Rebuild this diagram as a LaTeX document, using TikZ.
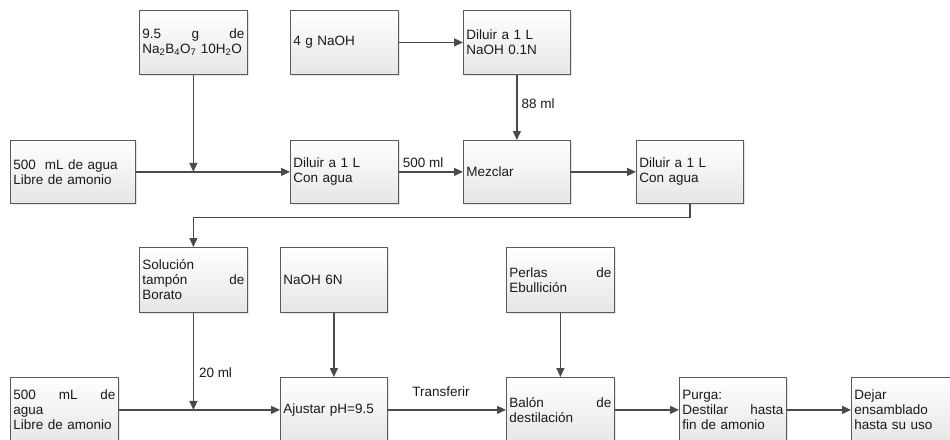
\documentclass[tikz,border=0pt]{standalone}
\usepackage{fontspec}
\setmainfont{Liberation Sans}
\usetikzlibrary{arrows.meta,shadows}
\definecolor{boxline}{HTML}{5A5A5A}
\definecolor{arrowc}{HTML}{4A4A4A}
\definecolor{boxbot}{HTML}{E6E6E6}
\definecolor{txt}{HTML}{1A1A1A}
\begin{document}
\begin{tikzpicture}[x=1pt,y=-1pt,
 box/.style={draw=boxline, line width=0.8pt, top color=white, bottom color=boxbot,
   drop shadow={shadow xshift=2pt,shadow yshift=-2pt,fill=black!20},
   anchor=north west, inner xsep=3pt, inner ysep=0pt, align=left, text=txt,
   font=\fontsize{13.5}{15}\selectfont, minimum height=64pt},
 conn/.style={draw=arrowc, line width=1.2pt, -{Triangle[length=9pt,width=8pt]}},
 lbl/.style={font=\fontsize{13.5}{15}\selectfont, inner sep=0pt, text=txt}]
\useasboundingbox (0,0) rectangle (950,439);
% row 1
\node[box, minimum width=108pt, text width=102pt] (b1) at (139,10)
  {9.5\hfill g\hfill de\\Na\textsubscript{2}B\textsubscript{4}O\textsubscript{7} 10H\textsubscript{2}O};
\node[box, minimum width=108pt, text width=102pt] (b2) at (290,10) {4 g NaOH};
\node[box, minimum width=107pt, text width=101pt] (b3) at (463,10) {Diluir a 1 L\\NaOH 0.1N};
% row 2
\node[box, minimum width=125pt, text width=119pt, minimum height=63pt] (b4) at (10,140) {500\ \ mL de agua\\Libre de amonio};
\node[box, minimum width=108pt, text width=102pt, minimum height=63pt] (b5) at (290,140) {Diluir a 1 L\\Con agua};
\node[box, minimum width=107pt, text width=101pt, minimum height=63pt] (b6) at (463,140) {Mezclar};
\node[box, minimum width=107pt, text width=101pt, minimum height=63pt] (b7) at (636,140) {Diluir a 1 L\\Con agua};
% row 3
\node[box, minimum width=108pt, text width=102pt, minimum height=65pt] (b8) at (139,247) {Soluci\'on\\tamp\'on\hfill de\\Borato};
\node[box, minimum width=107pt, text width=101pt, minimum height=65pt] (b9) at (280,247) {NaOH 6N};
\node[box, minimum width=108pt, text width=102pt, minimum height=65pt] (b10) at (506,247) {Perlas\hfill de\\Ebullici\'on};
% row 4
\node[box, minimum width=108pt, text width=102pt, minimum height=65pt] (b11) at (10,377) {500\hfill mL\hfill de\\agua\\Libre de amonio};
\node[box, minimum width=107pt, text width=101pt, minimum height=65pt] (b12) at (280,377) {Ajustar pH=9.5};
\node[box, minimum width=108pt, text width=102pt, minimum height=65pt] (b13) at (506,377) {Bal\'on\hfill de\\destilaci\'on};
\node[box, minimum width=107pt, text width=101pt, minimum height=65pt] (b14) at (679,377) {Purga:\\Destilar\hfill hasta\\fin de amonio};
\node[box, minimum width=107pt, text width=101pt, minimum height=65pt] (b15) at (851,377) {Dejar\\ensamblado\\hasta su uso};
% junctions
\coordinate (j1) at (b1.south |- b4.east);
\coordinate (j2) at (b8.south |- b11.east);
% connectors
\draw[conn] (b2) -- (b3);
\draw[conn] (b3) -- node[lbl, right=4pt, pos=0.44]{88 ml} (b6);
\draw[conn] (b1) -- (j1);
\draw[conn] (b4) -- (b5);
\draw[conn] (b5) -- node[lbl, above=4pt, pos=0.38]{500 ml} (b6);
\draw[conn] (b6) -- (b7);
\draw[conn] (b7.south) -- ++(0,14) -| (b8.north);
\draw[conn] (b8) -- node[lbl, right=5pt, pos=0.62]{20 ml} (j2);
\draw[conn] (b11) -- (b12);
\draw[conn] (b9) -- (b12);
\draw[conn] (b12) -- node[lbl, above=13pt, pos=0.45]{Transferir} (b13);
\draw[conn] (b10) -- (b13);
\draw[conn] (b13) -- (b14);
\draw[conn] (b14) -- (b15);
\end{tikzpicture}
\end{document}
